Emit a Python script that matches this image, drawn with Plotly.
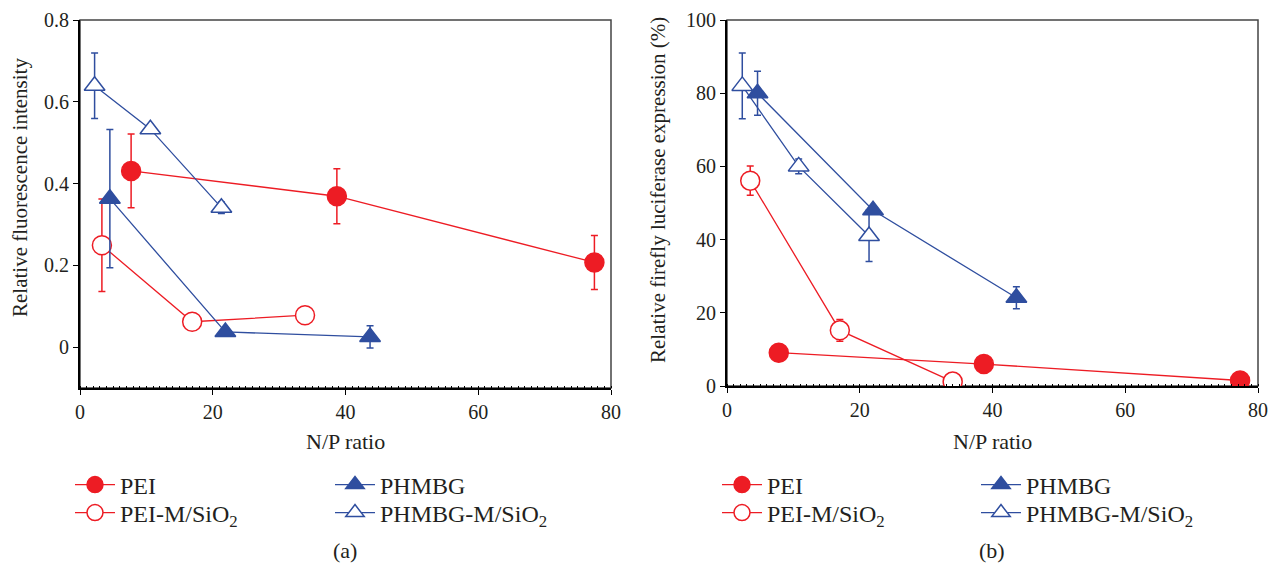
import plotly.graph_objects as go

# ---------------- data ----------------
# Panel (a): relative fluorescence intensity
pei_x_a = [7.7, 38.7, 77.5]
pei_y_a = [0.431, 0.369, 0.207]
pei_e_a = [0.090, 0.067, 0.066]

peim_x_a = [3.3, 16.9, 33.9]
peim_y_a = [0.249, 0.062, 0.078]
peim_e_a = [0.113, 0.0, 0.0]

phm_x_a = [4.5, 21.9, 43.7]
phm_y_a = [0.363, 0.037, 0.025]
phm_e_a = [0.169, 0.0, 0.027]

phmm_x_a = [2.2, 10.6, 21.3]
phmm_y_a = [0.639, 0.533, 0.341]
phmm_e_a = [0.080, 0.0, 0.014]

# Panel (b): relative firefly luciferase expression (%)
pei_x_b = [7.8, 38.7, 77.3]
pei_y_b = [9.1, 6.0, 1.5]
pei_e_b = [0, 0, 0]

peim_x_b = [3.5, 17.0, 34.0]
peim_y_b = [56.1, 15.2, 1.2]
peim_e_b = [4, 3, 0]

phm_x_b = [4.6, 22.0, 43.6]
phm_y_b = [80.0, 48.0, 24.1]
phm_e_b = [6, 0, 3]

phmm_x_b = [2.3, 10.8, 21.4]
phmm_y_b = [82.0, 60.0, 41.0]
phmm_e_b = [9, 2, 7]

names = ["PEI", "PEI-M/SiO<sub>2</sub>", "PHMBG", "PHMBG-M/SiO<sub>2</sub>"]
x_ticks = [0, 20, 40, 60, 80]
ya_ticks = [0, 0.2, 0.4, 0.6, 0.8]
ya_labels = ["0", "0.2", "0.4", "0.6", "0.8"]
yb_ticks = [0, 20, 40, 60, 80, 100]

RED = "#ED1C24"
BLUE = "#2F4E9F"
FONT = "Liberation Serif"
TXT = "#231F20"
FS = 20
OFF = 8                      # page body margin of the html page
W, H = 1277 - OFF, 569 - OFF

def px(x):
    return (x - OFF) / W

def py(y):
    return 1 - (y - OFF) / H

styles = [
    dict(color=RED, symbol="circle", fill=RED),
    dict(color=RED, symbol="circle", fill="white"),
    dict(color=BLUE, symbol="triangle-up", fill=BLUE),
    dict(color=BLUE, symbol="triangle-up", fill="white"),
]

fig = go.Figure()

panel_a = [(pei_x_a, pei_y_a, pei_e_a), (peim_x_a, peim_y_a, peim_e_a),
           (phm_x_a, phm_y_a, phm_e_a), (phmm_x_a, phmm_y_a, phmm_e_a)]
panel_b = [(pei_x_b, pei_y_b, pei_e_b), (peim_x_b, peim_y_b, peim_e_b),
           (phm_x_b, phm_y_b, phm_e_b), (phmm_x_b, phmm_y_b, phmm_e_b)]

legend_idx = 1
for panel, (xa, ya) in ((panel_a, ("x", "y")), (panel_b, ("x2", "y2"))):
    for i, (xs, ys, es) in enumerate(panel):
        st = styles[i]
        lname = "legend" if legend_idx == 1 else f"legend{legend_idx}"
        fig.add_trace(go.Scatter(
            x=xs, y=ys, xaxis=xa, yaxis=ya, name=names[i],
            mode="lines+markers",
            line=dict(color=st["color"], width=1.3),
            marker=dict(symbol=st["symbol"], size=19 if st["symbol"] == "circle" else 18,
                        color=st["fill"], line=dict(color=st["color"], width=1.5)),
            error_y=dict(type="data", array=es, visible=True, color=st["color"],
                         thickness=1.5, width=3.5),
            legend=lname, showlegend=True,
        ))
        legend_idx += 1

# legend placements: (left x px, row centre y px) in page pixels
leg_pos = [(70, 485), (70, 513), (330, 485), (330, 513),
           (717, 485), (717, 513), (976, 485), (976, 513)]
for k, (lx, ly) in enumerate(leg_pos, start=1):
    key = "legend" if k == 1 else f"legend{k}"
    fig.layout[key] = dict(
        x=px(lx), y=py(ly), xanchor="left", yanchor="middle",
        bgcolor="rgba(0,0,0,0)", borderwidth=0,
        font=dict(family=FONT, size=24, color=TXT),
        itemwidth=40, tracegroupgap=0,
    )

axis_common = dict(
    showgrid=False, zeroline=False, showline=True, linecolor="black", linewidth=1.8,
    ticks="outside", ticklen=5, tickwidth=1.3, tickcolor="black", automargin=False,
    ticklabeloverflow="allow",
    tickfont=dict(family=FONT, size=FS, color=TXT),
)

xa_dom = [px(80), px(611)]
xb_dom = [px(727), px(1258)]
ya_dom = [py(388), py(20)]
yb_dom = [py(386), py(20)]

minor = dict(dtick=1, ticks="inside", ticklen=2.5, tickwidth=1, tickcolor="black", showgrid=False)

fig.update_layout(
    width=W, height=H,
    margin=dict(l=0, r=0, t=0, b=0, autoexpand=False),
    paper_bgcolor="white", plot_bgcolor="white",
    font=dict(family=FONT, color=TXT),
    xaxis=dict(domain=xa_dom, range=[0, 80], tickvals=x_ticks, anchor="y",
               minor=minor, **axis_common),
    yaxis=dict(domain=ya_dom, range=[-0.1, 0.8], tickvals=ya_ticks, ticktext=ya_labels,
               anchor="x", **axis_common),
    xaxis2=dict(domain=xb_dom, range=[0, 80], tickvals=x_ticks, anchor="y2",
                minor=minor, **axis_common),
    yaxis2=dict(domain=yb_dom, range=[0, 100], tickvals=yb_ticks, anchor="x2",
                **axis_common),
)

# frame (top / right sides)
for xd, yd in ((xa_dom, ya_dom), (xb_dom, yb_dom)):
    fig.add_shape(type="rect", xref="paper", yref="paper",
                  x0=xd[0], x1=xd[1], y0=yd[0], y1=yd[1],
                  line=dict(color="#444444", width=1.5), layer="below")

annots = [
    dict(text="N/P ratio", x=px(345), y=py(442), size=22),
    dict(text="N/P ratio", x=px(992), y=py(442), size=22),
    dict(text="(a)", x=px(345), y=py(550), size=22),
    dict(text="(b)", x=px(992), y=py(550), size=22),
    dict(text="Relative fluorescence intensity", x=px(20), y=py(188), textangle=-90, size=21),
    dict(text="Relative firefly luciferase expression (%)", x=px(658), y=py(190), textangle=-90, size=21),
]
for a in annots:
    size = a.pop("size")
    fig.add_annotation(xref="paper", yref="paper", showarrow=False,
                       xanchor="center", yanchor="middle",
                       font=dict(family=FONT, size=size, color=TXT), **a)

fig.write_html("out.html")
